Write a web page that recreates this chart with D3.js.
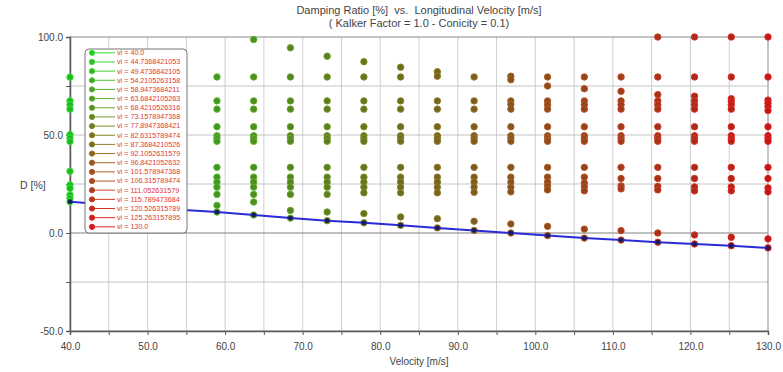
<!DOCTYPE html>
<html>
<head>
<meta charset="utf-8">
<script src="https://cdn.jsdelivr.net/npm/d3@7"></script>
<style>
  body { margin: 0; background: #fff; }
  svg { display: block; font-family: "Liberation Sans", Arial, sans-serif; }
  .title { white-space: pre; }
</style>
</head>
<body>
<svg id="chart" width="783" height="372"></svg>
<script>
// velocity labels as printed in the legend
const velocityLabels = ["40.0", "44.7368421053", "49.4736842105", "54.2105263158", "58.9473684211",
  "63.6842105263", "68.4210526316", "73.1578947368", "77.8947368421", "82.6315789474",
  "87.3684210526", "92.1052631579", "96.8421052632", "101.578947368", "106.315789474",
  "111.052631579", "115.789473684", "120.526315789", "125.263157895", "130.0"];

// damping ratios [%] read per velocity column
const d040 = [79.5, 67.4, 65.5, 63.2, 50.2, 48.5, 46.7, 31.5, 24.5, 22.8, 19.4, 17.7, 16.0];
const d045 = [79.6, 67.4, 63.2, 54.2, 49.6, 48.2, 46.8, 33.5, 28.5, 26.0, 23.4, 19.7, 16.5, 14.6];
const d049 = [79.6, 67.4, 63.2, 54.2, 49.6, 48.2, 46.8, 33.5, 28.5, 26.0, 23.4, 19.7, 15.5, 13.2];
const d054 = [79.6, 67.4, 63.2, 54.2, 49.6, 48.2, 46.8, 33.5, 28.5, 26.0, 23.4, 19.7, 14.8, 11.9];
const d059 = [79.6, 67.4, 63.2, 54.2, 49.6, 48.2, 46.8, 33.5, 28.5, 26.0, 23.4, 19.7, 14.1, 10.7];
const d064 = [98.7, 79.6, 67.4, 63.2, 54.2, 49.6, 48.2, 46.8, 33.5, 28.5, 26.0, 23.4, 19.7, 15.8, 9.2];
const d068 = [94.5, 79.6, 67.4, 63.2, 54.2, 49.6, 48.2, 46.8, 33.5, 28.5, 26.0, 23.4, 19.7, 11.5, 7.6];
const d073 = [90.2, 79.6, 67.4, 63.2, 54.2, 49.6, 48.2, 46.8, 33.5, 28.5, 26.0, 23.4, 19.7, 10.7, 6.3];
const d078 = [87.4, 79.6, 67.4, 63.2, 54.2, 49.6, 48.2, 46.8, 33.5, 28.5, 26.0, 23.4, 20.5, 9.9, 5.2];
const d083 = [84.6, 79.6, 67.4, 63.2, 54.2, 49.6, 48.2, 46.8, 33.5, 28.5, 26.0, 23.4, 20.5, 8.2, 3.9];
const d087 = [82.3, 80.0, 67.4, 63.2, 54.2, 49.6, 48.2, 46.8, 33.5, 28.5, 26.0, 23.4, 20.5, 7.3, 2.6];
const d092 = [79.6, 67.4, 63.2, 54.2, 49.6, 48.2, 46.8, 33.5, 28.5, 26.0, 23.4, 20.8, 6.0, 1.3];
const d097 = [80.0, 78.2, 67.4, 65.6, 63.2, 54.2, 49.6, 48.2, 46.8, 33.5, 28.5, 26.0, 23.4, 21.0, 4.6, 0.0];
const d102 = [79.6, 75.0, 67.4, 65.4, 63.2, 54.2, 49.6, 48.2, 46.8, 33.5, 28.5, 26.0, 24.0, 22.0, 3.4, -1.3];
const d106 = [79.6, 73.6, 67.4, 65.4, 63.2, 54.2, 49.6, 48.2, 46.8, 33.5, 28.5, 25.5, 23.5, 21.5, 2.0, -2.6];
const d111 = [79.6, 72.3, 67.4, 65.4, 63.2, 54.2, 49.6, 48.2, 46.8, 33.5, 27.8, 24.0, 22.5, 1.2, -3.6];
const d116 = [100.0, 79.6, 70.6, 67.4, 65.4, 63.2, 54.2, 49.6, 48.2, 46.8, 33.5, 27.8, 23.8, 22.0, 0.0, -4.7];
const d121 = [100.0, 79.6, 69.8, 67.4, 65.4, 63.2, 54.2, 49.6, 48.2, 46.8, 33.5, 27.8, 23.5, 21.5, -1.0, -5.6];
const d125 = [100.0, 79.6, 68.5, 67.0, 65.4, 63.2, 54.2, 49.6, 48.2, 46.8, 33.5, 27.8, 23.5, 21.5, -2.2, -6.5];
const d130 = [100.0, 79.6, 67.8, 66.2, 64.5, 62.5, 54.2, 49.6, 48.2, 46.8, 33.5, 27.8, 23.0, 21.0, -3.0, -7.6];

const dampingSeries = [d040, d045, d049, d054, d059, d064, d068, d073, d078, d083,
  d087, d092, d097, d102, d106, d111, d116, d121, d125, d130];

const titleLines = ["Damping Ratio [%]  vs.  Longitudinal Velocity [m/s]",
  "( Kalker Factor = 1.0 - Conicity = 0.1)"];

const velocities = velocityLabels.map(Number);

const svg = d3.select("#chart");
const plot = { left: 70, right: 768, top: 37, bottom: 331 };

const x = d3.scaleLinear().domain([40, 130]).range([plot.left, plot.right]);
const y = d3.scaleLinear().domain([-50, 100]).range([plot.bottom, plot.top]);
const color = d3.scaleLinear().domain([0, velocities.length - 1])
  .range(["#2ee22e", "#ea2020"]).interpolate(d3.interpolateRgb);

// grid
const grid = svg.append("g");
grid.selectAll(".vg").data(d3.range(45, 130, 5)).join("line")
  .attr("x1", d => x(d)).attr("x2", d => x(d))
  .attr("y1", plot.top).attr("y2", plot.bottom)
  .attr("stroke", "#cfcfcf");
grid.selectAll(".hg").data([75, 50, 25, -25]).join("line")
  .attr("x1", plot.left).attr("x2", plot.right)
  .attr("y1", d => y(d)).attr("y2", d => y(d))
  .attr("stroke", "#c4c4c4");
grid.append("line")
  .attr("x1", plot.left).attr("x2", plot.right)
  .attr("y1", y(0)).attr("y2", y(0))
  .attr("stroke", "#808080");

// frame
svg.append("rect")
  .attr("x", plot.left).attr("y", plot.top)
  .attr("width", plot.right - plot.left).attr("height", plot.bottom - plot.top)
  .attr("fill", "none").attr("stroke", "#8a8a8a");

// axes
const xAxis = d3.axisBottom(x).tickValues(d3.range(40, 131, 5)).tickSize(4)
  .tickFormat(d => d % 10 === 0 ? d.toFixed(1) : "");
const yAxis = d3.axisLeft(y).tickValues([-50, -25, 0, 25, 50, 75, 100]).tickSize(4)
  .tickFormat(d => d % 50 === 0 ? d.toFixed(1) : "");

const customAxis = (g) => {
  g.select(".domain").attr("stroke", "#5a5a5a").attr("stroke-width", 1.5);
  g.selectAll(".tick line").attr("stroke", "#5a5a5a");
  g.selectAll(".tick text").attr("fill", "#444").attr("font-size", 10)
    .attr("font-family", "Liberation Sans, Arial, sans-serif");
};

svg.append("g").attr("transform", `translate(0,${plot.bottom})`)
  .call(xAxis).call(customAxis)
  .selectAll(".tick text").attr("dy", "1.2em");
svg.append("g").attr("transform", `translate(${plot.left},0)`)
  .call(yAxis).call(customAxis)
  .selectAll(".tick text").attr("x", -7);

// titles
svg.append("g").selectAll("text").data(titleLines).join("text")
  .attr("class", "title")
  .attr("x", (plot.left + plot.right) / 2).attr("y", (d, i) => 14 + i * 13)
  .attr("text-anchor", "middle").attr("font-size", 11).attr("fill", "#444")
  .text(d => d);

svg.append("text").attr("x", (plot.left + plot.right) / 2).attr("y", 365)
  .attr("text-anchor", "middle").attr("font-size", 10).attr("fill", "#444")
  .text("Velocity [m/s]");
svg.append("text").attr("x", 20).attr("y", 189)
  .attr("font-size", 10.5).attr("fill", "#444")
  .text("D [%]");

// damping points per velocity
const pts = svg.append("g");
dampingSeries.forEach((vals, i) => {
  const c = color(i);
  pts.selectAll(null).data(vals).join("circle")
    .attr("cx", x(velocities[i])).attr("cy", d => y(d)).attr("r", 3.2)
    .attr("fill", d3.color(c).darker(0.6))
    .attr("stroke", c).attr("stroke-width", 1);
});

// minimum damping line
const mins = dampingSeries.map((vals, i) => [velocities[i], d3.min(vals)]);
const line = d3.line().x(d => x(d[0])).y(d => y(d[1]));
svg.append("path").datum(mins)
  .attr("d", line).attr("fill", "none")
  .attr("stroke", "#2a2ad8").attr("stroke-width", 2);
svg.append("g").selectAll("circle").data(mins).join("circle")
  .attr("cx", d => x(d[0])).attr("cy", d => y(d[1])).attr("r", 2.4)
  .attr("fill", "#1c1c5c");

// legend
const legend = svg.append("g").attr("transform", "translate(85,49)");
legend.append("rect")
  .attr("width", 102).attr("height", 184).attr("rx", 4)
  .attr("fill", "#fff").attr("stroke", "#777");
const rows = legend.selectAll(".row").data(velocityLabels).join("g")
  .attr("transform", (d, i) => `translate(0,${3.8 + i * 9.16})`);
rows.append("line").attr("x1", 7).attr("x2", 30).attr("y1", 0).attr("y2", 0)
  .attr("stroke", (d, i) => color(i)).attr("stroke-width", 1);
rows.append("circle").attr("cx", 7).attr("cy", 0).attr("r", 2.6)
  .attr("fill", (d, i) => d3.color(color(i)).darker(0.4))
  .attr("stroke", (d, i) => color(i));
rows.append("text").attr("x", 32).attr("y", 2.4)
  .attr("font-size", 7.2).attr("fill", "#e03636")
  .text(d => "vi = " + d);
</script>
</body>
</html>
